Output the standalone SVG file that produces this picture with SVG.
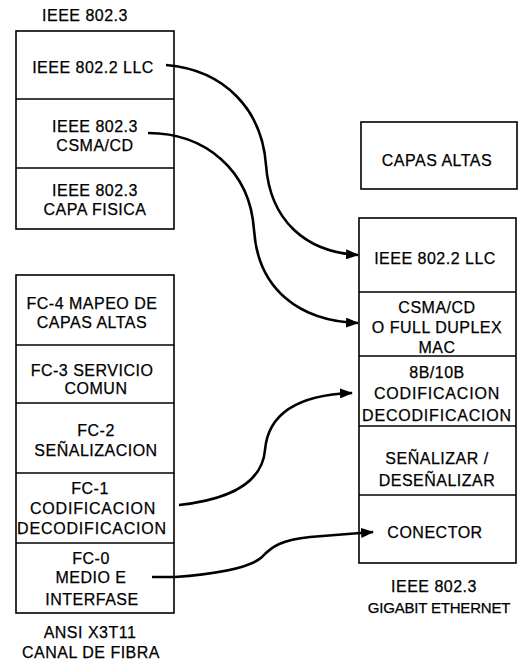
<svg xmlns="http://www.w3.org/2000/svg" width="520" height="662" viewBox="0 0 520 662">
<style>
.box{fill:#fff;stroke:#000;stroke-width:1.6}
.div{stroke:#000;stroke-width:1.4}
text{font-family:"Liberation Sans",Arial,sans-serif;font-size:16px;fill:#000;text-anchor:middle;letter-spacing:0.5px;stroke:#000;stroke-width:0.25}
.wide{letter-spacing:0.8px}
.tight{font-size:15px;letter-spacing:-0.2px}
.conn{fill:none;stroke:#000;stroke-width:2.6}
</style>
<defs>
<marker id="arr" viewBox="0 0 13 10" refX="12" refY="5" markerWidth="13" markerHeight="10" markerUnits="userSpaceOnUse" orient="auto">
<path d="M0,0 L13,5 L0,10 z" fill="#000"/>
</marker>
</defs>
<rect width="520" height="662" fill="#fff"/>

<g id="ieee8023">
<text x="85" y="21">IEEE 802.3</text>
<rect class="box" x="16" y="31" width="158" height="198"/>
<line class="div" x1="16" y1="99" x2="174" y2="99"/>
<line class="div" x1="16" y1="168" x2="174" y2="168"/>
<g id="l-llc"><text x="93" y="73">IEEE 802.2 LLC</text></g>
<g id="l-csma"><text x="95" y="132">IEEE 802.3</text><text x="95" y="151">CSMA/CD</text></g>
<g id="l-phy"><text x="95" y="196">IEEE 802.3</text><text x="95" y="215">CAPA FISICA</text></g>
</g>

<g id="fibra">
<rect class="box" x="16" y="275" width="158" height="338"/>
<line class="div" x1="16" y1="345" x2="174" y2="345"/>
<line class="div" x1="16" y1="403" x2="174" y2="403"/>
<line class="div" x1="16" y1="473" x2="174" y2="473"/>
<line class="div" x1="16" y1="543" x2="174" y2="543"/>
<g id="fc4"><text x="92" y="309">FC-4 MAPEO DE</text><text x="92" y="328">CAPAS ALTAS</text></g>
<g id="fc3"><text x="92" y="376">FC-3 SERVICIO</text><text x="96" y="394">COMUN</text></g>
<g id="fc2"><text x="96" y="436">FC-2</text><text x="96" y="456">SEÑALIZACION</text></g>
<g id="fc1"><text x="90" y="494">FC-1</text><text class="wide" x="93" y="514">CODIFICACION</text><text class="wide" x="92" y="534">DECODIFICACION</text></g>
<g id="fc0"><text x="91" y="564">FC-0</text><text x="91" y="583">MEDIO E</text><text x="92" y="605">INTERFASE</text></g>
<text x="90" y="638">ANSI X3T11</text>
<text x="91" y="658">CANAL DE FIBRA</text>
</g>

<g id="capas-altas">
<rect class="box" x="361" y="122" width="156" height="67"/>
<text x="437" y="166">CAPAS ALTAS</text>
</g>

<g id="gigabit">
<rect class="box" x="359" y="218" width="157" height="345"/>
<line class="div" x1="359" y1="292" x2="516" y2="292"/>
<line class="div" x1="359" y1="356" x2="516" y2="356"/>
<line class="div" x1="359" y1="426" x2="516" y2="426"/>
<line class="div" x1="359" y1="495" x2="516" y2="495"/>
<g id="g-llc"><text x="435" y="264">IEEE 802.2 LLC</text></g>
<g id="g-mac"><text x="437" y="313">CSMA/CD</text><text x="437" y="333">O FULL DUPLEX</text><text x="437" y="353">MAC</text></g>
<g id="g-cod"><text x="437" y="378">8B/10B</text><text class="wide" x="437" y="399">CODIFICACION</text><text class="wide" x="437" y="421">DECODIFICACION</text></g>
<g id="g-sen"><text x="437" y="464">SEÑALIZAR /</text><text x="437" y="486">DESEÑALIZAR</text></g>
<g id="g-con"><text x="435" y="538">CONECTOR</text></g>
<text x="434" y="592">IEEE 802.3</text>
<text class="tight" x="439" y="613">GIGABIT ETHERNET</text>
</g>

<g id="connectors">
<path class="conn" marker-end="url(#arr)" d="M166,65 C225,70 262,110 266,165 C270,220 305,252 358,255"/>
<path class="conn" marker-end="url(#arr)" d="M148,133 C205,133 250,170 254,230 C258,290 300,321 358,323"/>
<path class="conn" marker-end="url(#arr)" d="M179,505 C225,500 262,485 265,450 C268,415 295,395 352,393"/>
<path class="conn" marker-end="url(#arr)" d="M152,577 L175,577 C215,574 250,568 262,557 C272,546 282,540 310,537 L373,532"/>
</g>
</svg>
